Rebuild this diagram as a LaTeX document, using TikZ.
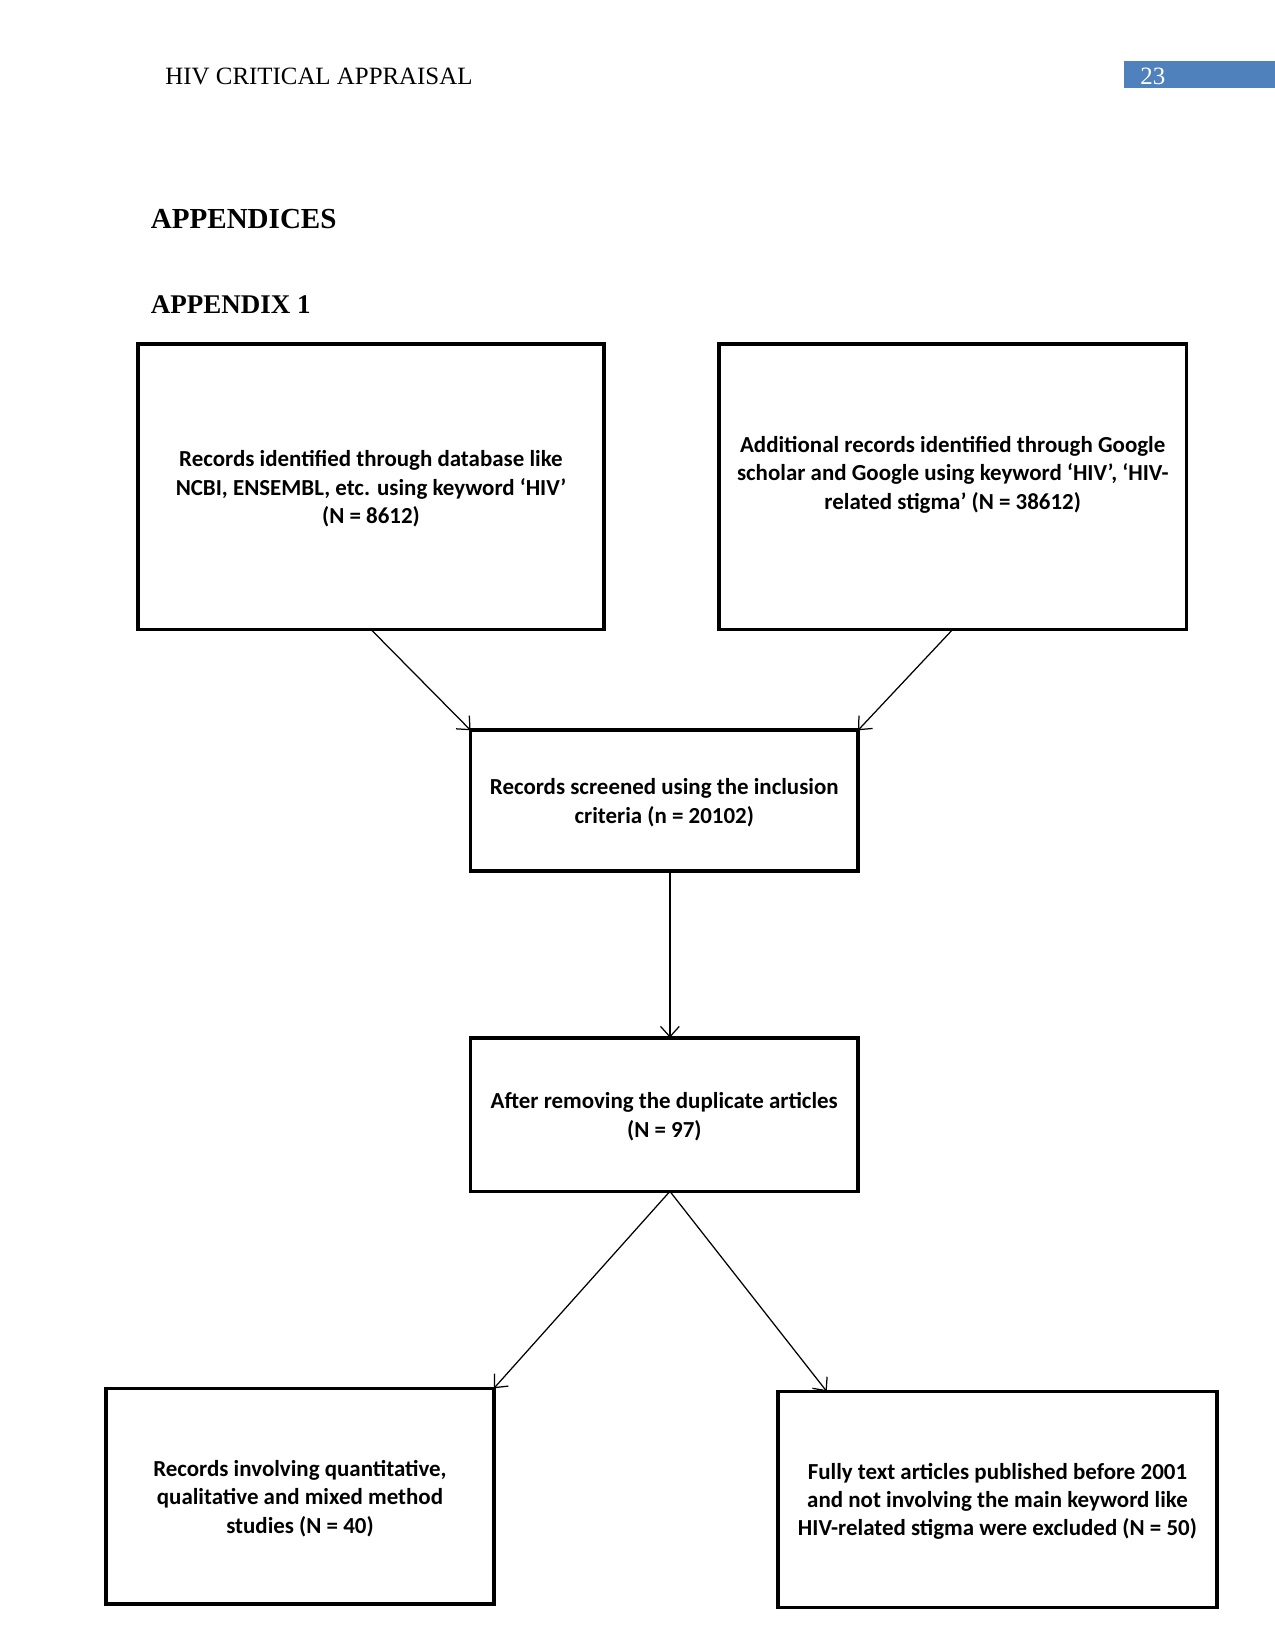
\documentclass[tikz,border=0pt]{standalone}
\usepackage{fontspec}
\setmainfont{Liberation Serif}
\newfontfamily\calib{Carlito}
\usetikzlibrary{arrows.meta,calc}
\definecolor{hdrblue}{HTML}{4F81BD}
\def\px{0.4818pt}
\begin{document}
\begin{tikzpicture}[x=0.016933cm,y=-0.016933cm,
 box/.style={draw,line width=1.75pt,inner sep=0,outer sep=0,anchor=north west},
 txt/.style={font=\calib\bfseries\fontsize{11.05}{13.7}\selectfont,align=center,inner sep=0},
 head/.style={font=\fontsize{12}{14}\selectfont,inner sep=0,anchor=base west},
 title/.style={font=\bfseries\fontsize{14}{16}\selectfont,inner sep=0,anchor=base west},
 conn/.style={line width=0.6pt,-{Straight Barb[length=5pt,width=9pt]}}]
\useasboundingbox (0,0) rectangle (1275,1651);
\fill[white] (0,0) rectangle (1275,1651);
% header
\node[head] (hdr) at (165,84) {HIV CRITICAL APPRAISAL};
\node[fill=hdrblue,inner sep=0,outer sep=0,anchor=north west,minimum width=151*\px,minimum height=27*\px] (pgbox) at (1124,61) {};
\node[head,text=white] (pgnum) at (1140,84) {23};
\node[title] (apps) at (150.5,228.5) {APPENDICES};
\node[title,font=\bfseries\fontsize{13}{15}\selectfont] (app1) at (150.5,313.5) {APPENDIX 1};
% boxes
\node[box,minimum width=466*\px,minimum height=285.5*\px] (b1) at (138,344) {};
\node[box,minimum width=467.5*\px,minimum height=285.5*\px] (b2) at (719,344) {};
\node[box,minimum width=387.5*\px,minimum height=141*\px] (b3) at (470.6,730.3) {};
\node[box,minimum width=387.5*\px,minimum height=153.7*\px] (b4) at (470.6,1037.7) {};
\node[box,minimum width=388*\px,minimum height=216*\px] (b5) at (106,1388.3) {};
\node[box,minimum width=439*\px,minimum height=216*\px] (b6) at (778,1391.4) {};
% texts
\node[txt] (t1) at ([yshift=-2*\px]b1.center) {Records identified through database like\\NCBI, ENSEMBL, etc. using keyword ‘HIV’\\(N = 8612)};
\node[txt] (t2) at ([yshift=12*\px]b2.center) {Additional records identified through Google\\scholar and Google using keyword ‘HIV’, ‘HIV-\\related stigma’ (N = 38612)};
\node[txt] (t3) at ([yshift=-2*\px]b3.center) {Records screened using the inclusion\\criteria (n = 20102)};
\node[txt] (t4) at ([yshift=-2*\px]b4.center) {After removing the duplicate articles\\(N = 97)};
\node[txt] (t5) at ([yshift=-2*\px]b5.center) {Records involving quantitative,\\qualitative and mixed method\\studies (N = 40)};
\node[txt] (t6) at ([yshift=-2*\px]b6.center) {Fully text articles published before 2001\\and not involving the main keyword like\\HIV-related stigma were excluded (N = 50)};
% connectors
\draw[conn] (b1.south) -- (b3.north west);
\draw[conn] (b2.south) -- (b3.north east);
\draw[conn] ([xshift=5.6*\px]b3.south) -- ([xshift=5.6*\px]b4.north);
\draw[conn] ([xshift=5.6*\px]b4.south) -- (b5.north east);
\draw[conn] ([xshift=5.6*\px]b4.south) -- ($(b6.north west)!0.111!(b6.north east)$);
\end{tikzpicture}
\end{document}
